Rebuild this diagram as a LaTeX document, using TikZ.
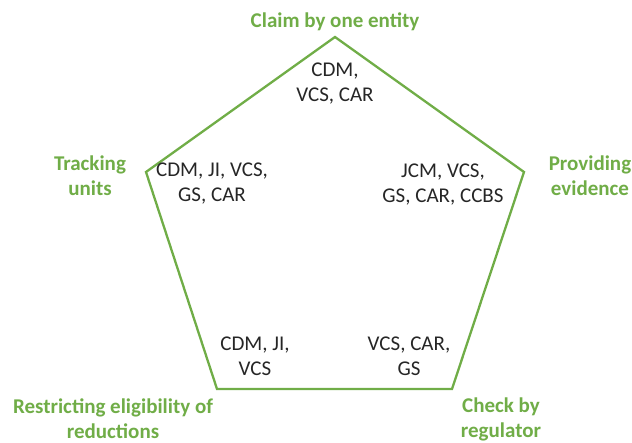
\documentclass[tikz,border=0pt]{standalone}
\usepackage{fontspec}
\setmainfont{Carlito}
\definecolor{leafgreen}{HTML}{70AD47}
\begin{document}
\begin{tikzpicture}[x=1pt,y=-1pt]
\tikzset{corner label/.style = {text=leafgreen,font=\bfseries\fontsize{21}{25}\selectfont,align=center},
         scheme list/.style = {text=black!85,font=\fontsize{21}{25}\selectfont,align=center}}
\useasboundingbox (0,0) rectangle (632,443);
% corners
\foreach \x/\y/\name in {335/37/top,524/172/right,452/389/botright,217/389/botleft,146/172/left} {
    \coordinate (\name) at (\x,\y);
}
% pentagon
\draw[leafgreen,line width=2.3pt,line join=miter] (top) -- (right) -- (botright) -- (botleft) -- (left) -- cycle;
% headings
\node[corner label] (claim) at (335,22) {Claim by one entity};
\node[corner label] (track) at (90,176) {Tracking\\units};
\node[corner label] (evid) at (590,176) {Providing\\evidence};
\node[corner label] (restr) at (113,419) {Restricting eligibility of\\reductions};
\node[corner label] (check) at (501,419) {Check by\\regulator};
% schemes
\node[scheme list] (claimlist) at (335,84) {CDM,\\VCS, CAR};
\node[scheme list] (tracklist) at (212,184) {CDM, JI, VCS,\\GS, CAR};
\node[scheme list] (evidlist) at (443,185) {JCM, VCS,\\GS, CAR, CCBS};
\node[scheme list] (restrlist) at (255,356) {CDM, JI,\\VCS};
\node[scheme list] (checklist) at (409,356) {VCS, CAR,\\GS};
\end{tikzpicture}
\end{document}
